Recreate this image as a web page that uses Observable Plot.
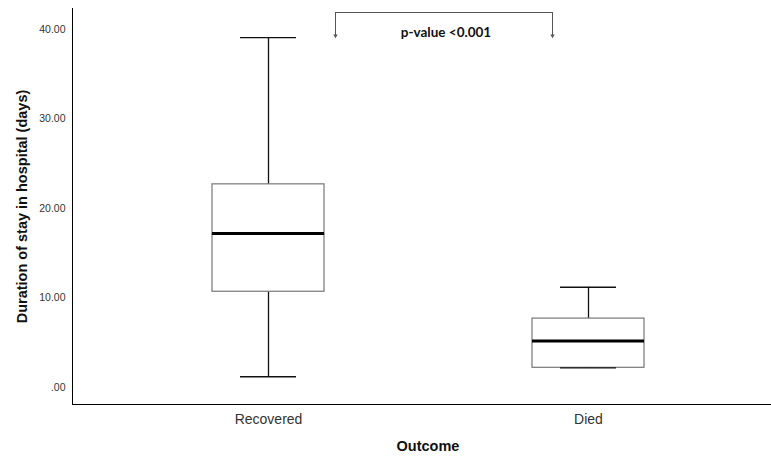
<!DOCTYPE html>
<html>
<head>
<meta charset="utf-8">
<script src="https://cdn.jsdelivr.net/npm/d3@7"></script>
<script src="https://cdn.jsdelivr.net/npm/@observablehq/plot@0.6"></script>
<style>
  html, body { margin: 0; padding: 0; background: #fff; }
  svg { display: block; }
</style>
</head>
<body>
<div id="chart"></div>
<script>
const categories = ["Recovered", "Died"];
const whiskerLow = [1.2, 2.2];
const q1 = [10.7, 2.2];
const median = [17.2, 5.2];
const q3 = [22.7, 7.7];
const whiskerHigh = [39.1, 11.2];
const yTicks = [0, 10, 20, 30, 40];
const pLabel = ["p-value <0.001"];
const bracketTop = 41.9;
const bracketBottom = 39.3;

const data = categories.map((c, i) => ({
  cat: c, lo: whiskerLow[i], q1: q1[i], med: median[i], q3: q3[i], hi: whiskerHigh[i]
}));

const chart = Plot.plot({
  width: 771,
  height: 457,
  marginLeft: 72,
  marginRight: 0,
  marginTop: 8,
  marginBottom: 53,
  style: { fontFamily: "Liberation Sans, Arial, sans-serif", background: "#fff" },
  x: {
    type: "band",
    domain: categories,
    paddingInner: 0.65,
    paddingOuter: 0.417,
    align: 0.524,
    label: null,
    tickSize: 0,
    tickPadding: 10,
    line: true
  },
  y: {
    domain: [-1.9, 42.35],
    ticks: yTicks,
    tickFormat: d => d === 0 ? ".00" : d.toFixed(2),
    tickSize: 0,
    tickPadding: 7,
    label: null,
    line: true
  },
  marks: [
    Plot.ruleX(data, { x: "cat", y1: "lo", y2: "hi", stroke: "#111", strokeWidth: 1.3 }),
    Plot.barY(data, { x: "cat", y1: "q1", y2: "q3", fill: "#fff", stroke: "#777", strokeWidth: 1.2 }),
    Plot.tickY(data, { x: "cat", y: "lo", stroke: "#111", strokeWidth: 1.3, insetLeft: 28, insetRight: 28 }),
    Plot.tickY(data, { x: "cat", y: "hi", stroke: "#111", strokeWidth: 1.3, insetLeft: 28, insetRight: 28 }),
    Plot.tickY(data, { x: "cat", y: "med", stroke: "#000", strokeWidth: 3 }),
    // significance bracket
    Plot.ruleY([bracketTop], { x1: () => categories[0], x2: () => categories[1], insetLeft: 123, insetRight: 92, stroke: "#555", strokeWidth: 1 }),
    Plot.ruleX([categories[0]], { x: d => d, y1: bracketTop, y2: bracketBottom, dx: 67, stroke: "#555", strokeWidth: 1 }),
    Plot.ruleX([categories[1]], { x: d => d, y1: bracketTop, y2: bracketBottom, dx: -36, stroke: "#555", strokeWidth: 1 }),
    Plot.dot([categories[0]], { x: d => d, y: bracketBottom, dx: 67, symbol: "triangle", r: 1.6, rotate: 180, fill: "#555", stroke: null }),
    Plot.dot([categories[1]], { x: d => d, y: bracketBottom, dx: -36, symbol: "triangle", r: 1.6, rotate: 180, fill: "#555", stroke: null }),
    Plot.text(pLabel, { frameAnchor: "top", dx: 24, dy: 19, text: d => d, fontWeight: "bold", fontSize: 13.5, fontFamily: "Lato, Open Sans, sans-serif", fill: "#111" }),
    // axis titles
    Plot.text(["Duration of stay in hospital (days)"], { frameAnchor: "left", textAnchor: "middle", dx: -50, dy: 0, rotate: -90, text: d => d, fontWeight: "bold", fontSize: 14.5, fill: "#111" }),
    Plot.text(["Outcome"], { frameAnchor: "bottom", dx: 6, dy: 46, text: d => d, fontWeight: "bold", fontSize: 14.5, fill: "#111" })
  ]
});

// style axis text
d3.select(chart).selectAll("g[aria-label='y-axis tick label']").attr("font-size", 10.5).attr("fill", "#333");
d3.select(chart).selectAll("g[aria-label='x-axis tick label']").attr("font-size", 14).attr("fill", "#333");
d3.select(chart).selectAll("g[aria-label='x-axis line'], g[aria-label='y-axis line']").attr("stroke", "#999").attr("stroke-width", 1.5);
document.getElementById("chart").appendChild(chart);
</script>
</body>
</html>
